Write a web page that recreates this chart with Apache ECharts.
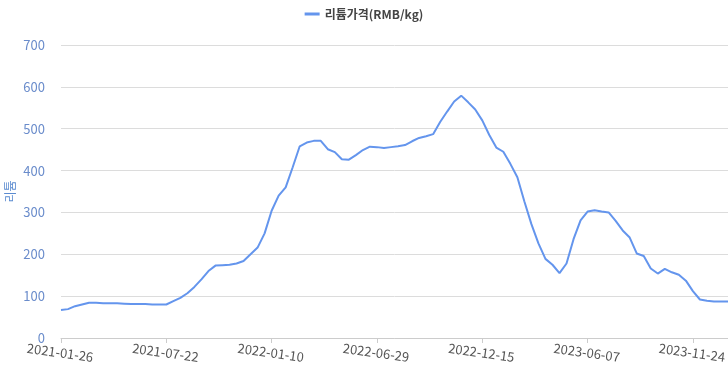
<!DOCTYPE html>
<html>
<head>
<meta charset="utf-8">
<script src="https://cdn.jsdelivr.net/npm/echarts@6/dist/echarts.min.js"></script>
<style>
html,body{margin:0;padding:0;background:#fff;}
#chart{width:728px;height:371px;}
</style>
</head>
<body>
<div id="chart"></div>
<script>
const seriesName = '리튬가격(RMB/kg)';
const yAxisName = '리튬';
const dates = [
  '2021-01-26','2021-02-08','2021-02-19','2021-03-03','2021-03-15','2021-03-26','2021-04-08','2021-04-20','2021-05-03','2021-05-14',
  '2021-05-26','2021-06-07','2021-06-18','2021-06-30','2021-07-12','2021-07-22','2021-08-03','2021-08-13','2021-08-25','2021-09-06',
  '2021-09-16','2021-09-28','2021-10-12','2021-10-22','2021-11-03','2021-11-15','2021-11-25','2021-12-07','2021-12-17','2021-12-29',
  '2022-01-10','2022-01-20','2022-02-07','2022-02-17','2022-03-01','2022-03-11','2022-03-23','2022-04-04','2022-04-14','2022-04-26',
  '2022-05-09','2022-05-19','2022-05-31','2022-06-10','2022-06-21','2022-06-29','2022-07-11','2022-07-21','2022-08-02','2022-08-12',
  '2022-08-24','2022-09-05','2022-09-15','2022-09-27','2022-10-11','2022-10-21','2022-11-02','2022-11-14','2022-11-24','2022-12-06',
  '2022-12-15','2022-12-27','2023-01-09','2023-01-19','2023-01-31','2023-02-10','2023-02-22','2023-03-06','2023-03-16','2023-03-28',
  '2023-04-10','2023-04-20','2023-05-04','2023-05-16','2023-05-26','2023-06-07','2023-06-19','2023-06-29','2023-07-11','2023-07-21',
  '2023-08-02','2023-08-14','2023-08-24','2023-09-05','2023-09-15','2023-09-27','2023-10-12','2023-10-24','2023-11-03','2023-11-14',
  '2023-11-24','2023-12-06','2023-12-18','2023-12-28','2024-01-10','2024-01-22'
];
const prices = [
  67, 69, 76, 80, 84, 84, 83, 83, 83, 82,
  81, 81, 81, 80, 80, 80, 88, 96, 107, 122,
  140, 160, 173, 174, 175, 178, 184, 200, 216, 250,
  304, 340, 360, 408, 458, 467, 471, 471, 451, 444,
  427, 426, 437, 449, 457, 456, 454, 456, 458, 461,
  470, 478, 482, 487, 516, 541, 565, 579, 563, 546,
  520, 485, 455, 445, 416, 384, 326, 272, 226, 189,
  175, 155, 178, 236, 281, 302, 305, 302, 300, 280,
  257, 240, 202, 196, 166, 154, 165, 157, 151, 137,
  112, 92, 89, 87, 87, 87
];
const yTicks = { min: 0, max: 700, interval: 100 };

const font = "'Noto Sans CJK KR', 'Noto Sans', sans-serif";
const chart = echarts.init(document.getElementById('chart'));
chart.setOption({
  animation: false,
  textStyle: { fontFamily: font },
  legend: {
    top: 3,
    left: 'center',
    icon: 'rect',
    itemWidth: 15,
    itemHeight: 3,
    itemGap: 10,
    data: [seriesName],
    textStyle: { color: '#444', fontSize: 12, fontWeight: 'bold', fontFamily: font }
  },
  grid: { left: 61, right: 0, top: 45, bottom: 33, containLabel: false, outerBoundsMode: 'none' },
  xAxis: {
    type: 'category',
    data: dates,
    boundaryGap: false,
    axisLine: { lineStyle: { color: '#ccc' } },
    axisTick: { interval: 14, length: 5, lineStyle: { color: '#ccc' } },
    axisLabel: {
      interval: 14,
      rotate: -8,
      align: 'center',
      verticalAlign: 'top',
      margin: 8,
      color: '#555',
      fontSize: 13,
      fontFamily: font
    },
    splitLine: { show: false }
  },
  yAxis: {
    type: 'value',
    min: yTicks.min,
    max: yTicks.max,
    interval: yTicks.interval,
    name: yAxisName,
    nameLocation: 'middle',
    nameRotate: 90,
    nameGap: 45,
    nameMoveOverlap: false,
    nameTextStyle: { color: '#5b8bd0', fontSize: 12, fontFamily: font },
    axisLine: { show: false },
    axisTick: { show: false },
    axisLabel: { color: '#6a8ccb', fontSize: 13, margin: 16, fontFamily: font },
    splitLine: { lineStyle: { color: '#dcdcdc' } }
  },
  series: [{
    name: seriesName,
    type: 'line',
    data: prices,
    showSymbol: false,
    symbol: 'none',
    lineStyle: { color: '#6495ed', width: 2 },
    itemStyle: { color: '#6495ed' }
  }]
});
</script>
</body>
</html>
